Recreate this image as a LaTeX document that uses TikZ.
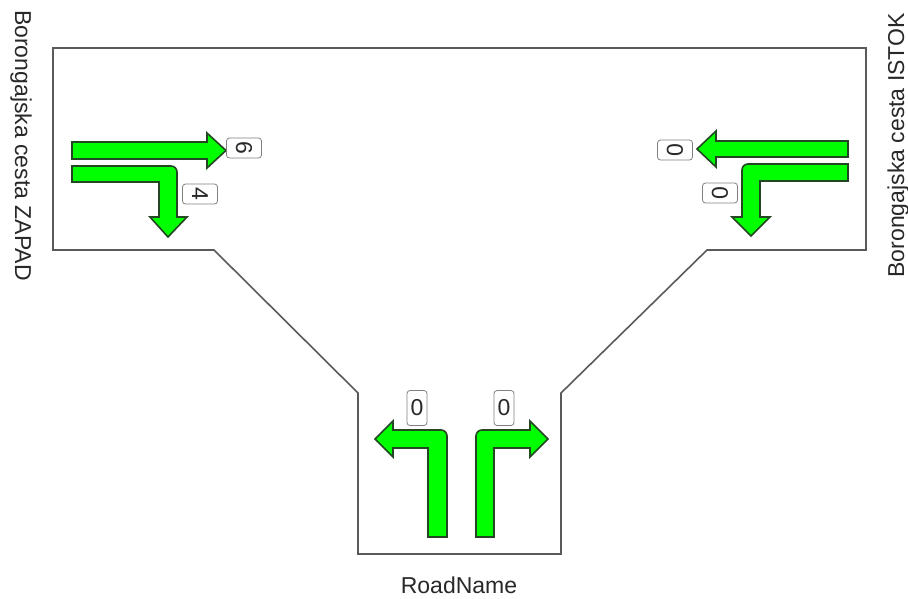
\documentclass[tikz,border=0pt]{standalone}
\usepackage{fontspec}
\setmainfont{Liberation Sans}
\definecolor{roadline}{RGB}{90,90,90}
\definecolor{arrowfill}{RGB}{0,255,0}
\definecolor{arrowline}{RGB}{35,70,35}
\definecolor{txt}{RGB}{40,40,40}
\begin{document}
\begin{tikzpicture}[x=1pt,y=-1pt,
  road/.style={draw=roadline,line width=1.6pt,line join=miter},
  lanearrow/.style={fill=arrowfill,draw=arrowline,line width=1.6pt,line join=miter},
  countbox/.style={draw=gray,fill=white,rounded corners=3pt,line width=0.8pt,inner sep=0pt,minimum width=20pt,minimum height=35pt,font=\fontsize{23}{27}\selectfont,text=txt},
  roadlabel/.style={font=\fontsize{23}{27}\selectfont,text=txt,inner sep=0pt}]
\useasboundingbox (0,0) rectangle (908,598);
% road outline
\draw[road] (53,48) -- (866,48) -- (866,250) -- (707,250) -- (561,393) -- (561,554)
  -- (358,554) -- (358,393) -- (214,250) -- (53,250) -- cycle;
% west arm
\draw[lanearrow] (72,142) -- (207,142) -- (207,133) -- (226,150.5) -- (207,168) -- (207,159) -- (72,159) -- cycle;
\draw[lanearrow] (72,166) [rounded corners=6pt] -- (177,166) [sharp corners] -- (177,217) -- (187,217) -- (168,237) -- (150,217) -- (159,217) -- (159,182) -- (72,182) -- cycle;
\node[countbox,rotate=-90] (w1) at (244,148) {6};
\node[countbox,rotate=-90] (w2) at (200,194) {4};
% east arm
\draw[lanearrow] (848,141) -- (716,141) -- (716,131) -- (697,149) -- (716,167) -- (716,157) -- (848,157) -- cycle;
\draw[lanearrow] (848,164) [rounded corners=6pt] -- (742,164) [sharp corners] -- (742,217) -- (732,217) -- (751,236) -- (770,217) -- (760,217) -- (760,181) -- (848,181) -- cycle;
\node[countbox,rotate=90] (e1) at (675,150) {0};
\node[countbox,rotate=90] (e2) at (720,193) {0};
% south arm
\draw[lanearrow] (428,537) -- (447,537) [rounded corners=6pt] -- (447,430) [sharp corners] -- (393,430) -- (393,421) -- (375,439) -- (393,457) -- (393,448) -- (428,448) -- cycle;
\draw[lanearrow] (494,537) -- (476,537) [rounded corners=6pt] -- (476,430) [sharp corners] -- (530,430) -- (530,421) -- (548,439) -- (530,457) -- (530,448) -- (494,448) -- cycle;
\node[countbox] (s1) at (417,408) {0};
\node[countbox] (s2) at (504,408) {0};
% road names
\node[roadlabel,rotate=-90,anchor=base west] (west) at (15,10) {Borongajska cesta ZAPAD};
\node[roadlabel,rotate=90,anchor=base east] (east) at (904,13) {Borongajska cesta ISTOK};
\node[roadlabel,anchor=base] (south) at (459,593) {RoadName};
\end{tikzpicture}
\end{document}
